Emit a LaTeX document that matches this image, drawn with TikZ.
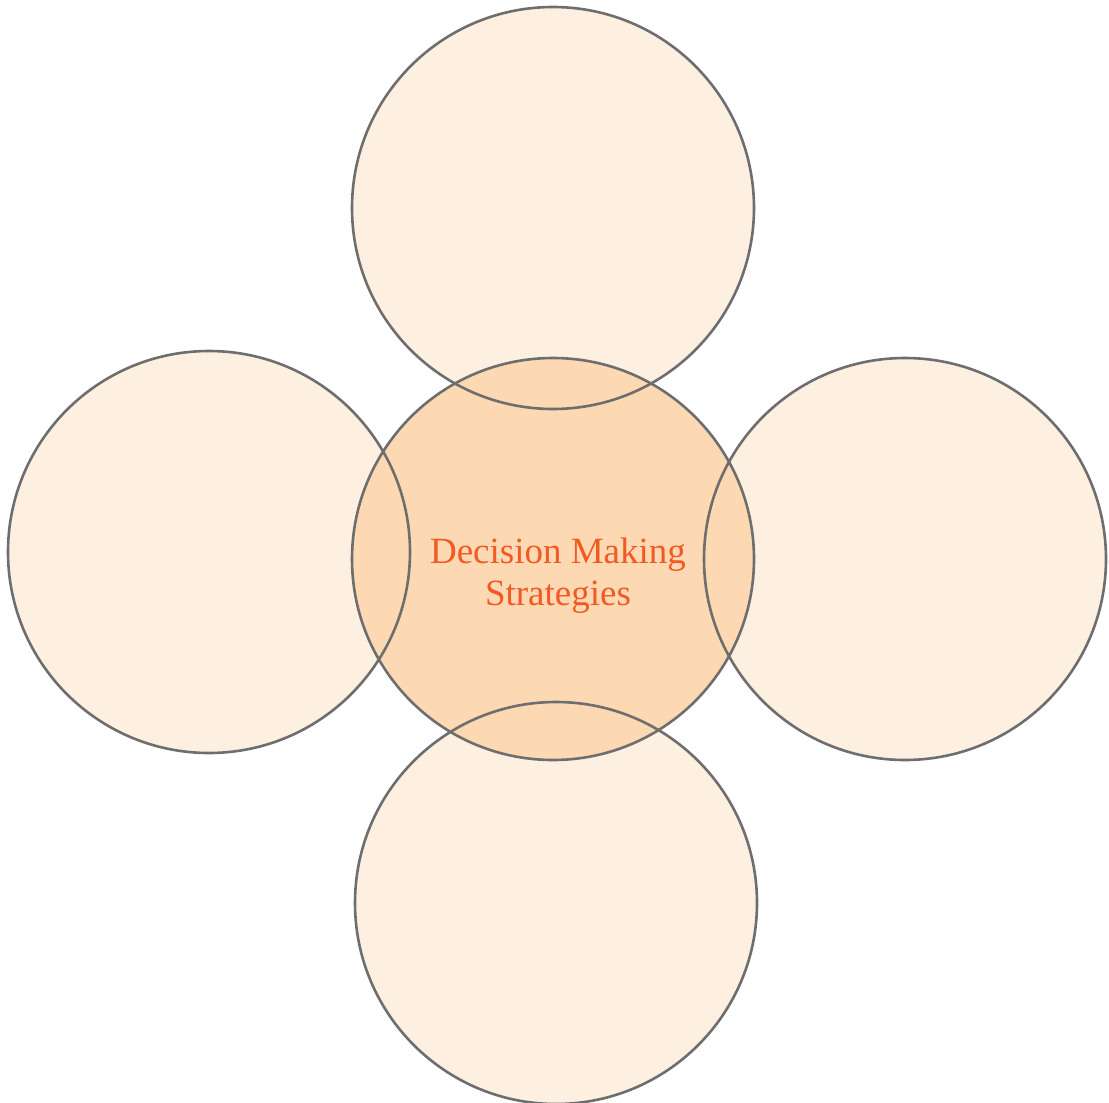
\documentclass[tikz,border=0pt]{standalone}
\usepackage{fontspec}
\setmainfont{Liberation Serif}
\usepackage{tikz}
\usetikzlibrary{positioning}
\usepackage{xcolor}
\definecolor{petalfill}{HTML}{FDF0E1}
\definecolor{corefill}{HTML}{FCD9B2}
\definecolor{rimgray}{HTML}{6E6E6E}
\definecolor{labelorange}{HTML}{F25A24}

\begin{document}
\begin{tikzpicture}[x=1pt, y=-1pt,
    petal/.style={circle, minimum size=402pt, inner sep=0pt, outer sep=0pt}]
  \useasboundingbox (0,0) rectangle (1109,1103);

  % Outer circles
  \node[petal, fill=petalfill] (top)    at (553,208) {};
  \node[petal, fill=petalfill] (left)   at (209,552) {};
  \node[petal, fill=petalfill] (right)  at (905,559) {};
  \node[petal, fill=petalfill] (bottom) at (556,903) {};

  % Centre circle
  \node[petal, fill=corefill] (hub) at (553,559) {};

  % Outlines on top
  \foreach \c in {top, left, right, bottom, hub}
    \draw[rimgray, line width=2.6pt] (\c.center) circle (201);

  % Title
  \node[align=center, text=labelorange, font=\fontsize{37}{42}\selectfont] (title) at (558,576) {Decision Making\\Strategies};

\end{tikzpicture}
\end{document}
